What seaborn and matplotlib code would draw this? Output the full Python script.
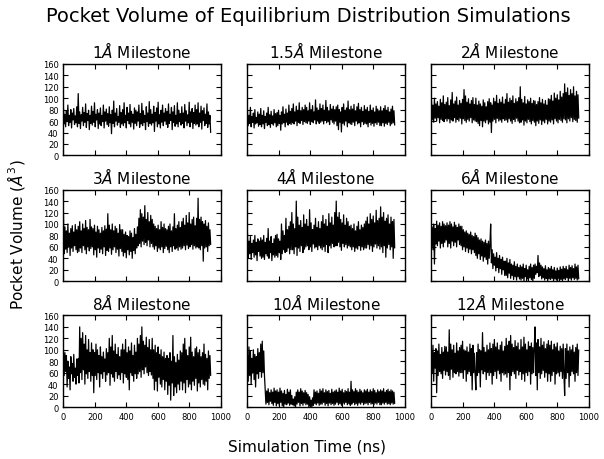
import numpy as np
import pandas as pd
import matplotlib
matplotlib.use('Agg')
import matplotlib.pyplot as plt
import seaborn as sns

# ---- data (pocket volume in A^3) ----
time_step_ns = 4.7

milestones = ['1', '1.5', '2', '3', '4', '6', '8', '10', '12']

vol_1A = [84, 55, 72, 50, 78, 60, 88, 52, 70, 58, 80, 48, 74, 62, 82, 54, 69, 57, 85, 50,
          108, 56, 76, 47, 71, 60, 84, 52, 75, 58, 90, 49, 73, 61, 79, 45, 70, 56, 86, 53,
          77, 58, 92, 50, 72, 62, 80, 47, 74, 55, 83, 52, 70, 59, 88, 48, 76, 60, 81, 54,
          73, 51, 85, 57, 71, 38, 79, 56, 95, 50, 74, 60, 82, 53, 68, 58, 87, 49, 75, 55,
          80, 52, 92, 57, 70, 48, 84, 61, 74, 55, 89, 50, 77, 58, 72, 46, 83, 56, 79, 52,
          76, 60, 88, 49, 73, 55, 91, 52, 78, 58, 70, 45, 85, 59, 74, 51, 94, 56, 80, 53,
          72, 57, 86, 42, 75, 60, 83, 50, 93, 55, 71, 48, 79, 58, 88, 52, 74, 60, 82, 54,
          77, 49, 90, 56, 72, 61, 84, 45, 76, 58, 87, 51, 70, 55, 92, 50, 79, 59, 73, 53,
          85, 56, 74, 48, 89, 60, 78, 52, 71, 57, 93, 50, 76, 58, 82, 47, 75, 56, 88, 53,
          80, 55, 92, 50, 74, 58, 86, 46, 78, 61, 83, 52, 72, 56, 90, 49, 76, 55, 70, 40]

vol_1_5A = [78, 52, 70, 56, 84, 50, 68, 58, 74, 48, 80, 55, 66, 57, 76, 51, 72, 54, 82, 50,
            70, 55, 78, 47, 68, 58, 74, 52, 84, 54, 71, 49, 77, 56, 69, 53, 80, 57, 73, 50,
            75, 52, 79, 56, 70, 44, 76, 55, 85, 57, 72, 50, 81, 58, 74, 53, 88, 56, 77, 54,
            82, 57, 90, 55, 76, 60, 86, 52, 79, 58, 92, 56, 78, 61, 84, 54, 80, 59, 88, 57,
            84, 56, 78, 60, 92, 54, 80, 59, 87, 57, 76, 62, 97, 55, 83, 60, 79, 56, 90, 58,
            82, 60, 88, 55, 79, 61, 96, 57, 84, 59, 78, 54, 89, 62, 81, 58, 86, 55, 80, 60,
            85, 52, 88, 45, 80, 58, 76, 41, 84, 56, 90, 53, 79, 60, 83, 50, 95, 57, 80, 55,
            86, 54, 81, 58, 89, 52, 78, 60, 85, 55, 91, 57, 80, 50, 84, 59, 77, 54, 87, 56,
            80, 55, 84, 50, 77, 58, 88, 53, 79, 56, 83, 51, 76, 57, 86, 54, 81, 58, 78, 52,
            85, 52, 78, 57, 82, 51, 87, 56, 79, 54, 84, 58, 76, 52, 81, 55, 86, 57, 78, 53]

vol_2A = [96, 62, 88, 58, 100, 65, 90, 60, 94, 66, 86, 57, 98, 63, 92, 61, 104, 59, 89, 64,
          93, 60, 101, 64, 87, 57, 97, 62, 110, 60, 90, 66, 95, 58, 102, 63, 88, 60, 96, 65,
          91, 55, 98, 64, 115, 61, 104, 58, 93, 63, 99, 60, 90, 66, 96, 57, 101, 62, 89, 60,
          100, 59, 88, 56, 95, 52, 90, 61, 86, 50, 97, 60, 92, 57, 85, 62, 94, 55, 99, 58,
          92, 40, 88, 60, 100, 63, 94, 57, 105, 65, 91, 60, 98, 62, 93, 58, 102, 64, 90, 61,
          98, 62, 108, 58, 93, 64, 100, 60, 96, 56, 104, 63, 91, 59, 99, 65, 94, 60, 101, 57,
          120, 58, 98, 62, 92, 53, 103, 60, 90, 57, 97, 63, 94, 59, 100, 55, 91, 61, 96, 58,
          95, 52, 89, 60, 94, 56, 101, 62, 92, 54, 98, 60, 90, 57, 96, 63, 88, 55, 99, 60,
          98, 58, 105, 62, 95, 55, 109, 64, 100, 60, 106, 57, 97, 63, 112, 61, 102, 58, 108, 64,
          125, 62, 110, 57, 118, 64, 105, 60, 115, 66, 108, 59, 120, 63, 104, 61, 112, 58, 106, 65]

vol_3A = [120, 48, 95, 56, 88, 50, 100, 60, 84, 45, 92, 58, 97, 52, 86, 62, 99, 55, 90, 50,
          96, 52, 104, 58, 88, 50, 100, 62, 92, 55, 106, 48, 94, 60, 90, 53, 108, 57, 95, 60,
          92, 46, 98, 55, 86, 42, 96, 58, 90, 50, 84, 56, 94, 48, 88, 60, 97, 45, 91, 54,
          118, 52, 98, 58, 90, 47, 100, 55, 88, 60, 96, 50, 92, 56, 84, 44, 99, 57, 90, 52,
          90, 44, 82, 50, 86, 41, 80, 55, 78, 46, 88, 52, 84, 40, 76, 54, 92, 48, 82, 58,
          95, 62, 110, 66, 125, 60, 118, 70, 112, 64, 132, 68, 108, 62, 120, 72, 104, 60, 115, 66,
          108, 60, 100, 56, 96, 62, 92, 52, 98, 58, 90, 55, 104, 60, 94, 50, 100, 57, 92, 61,
          90, 55, 96, 50, 100, 60, 88, 52, 95, 62, 118, 56, 92, 58, 98, 54, 104, 60, 94, 56,
          104, 58, 110, 62, 98, 55, 115, 63, 102, 57, 120, 60, 100, 64, 108, 56, 112, 62, 97, 58,
          110, 60, 145, 58, 108, 55, 112, 62, 104, 35, 100, 58, 106, 60, 96, 52, 102, 62, 90, 64]

vol_4A = [85, 40, 70, 48, 78, 38, 66, 50, 72, 42, 80, 46, 68, 36, 74, 52, 70, 44, 76, 40,
          72, 42, 80, 38, 68, 48, 75, 44, 92, 40, 70, 50, 78, 36, 66, 46, 74, 42, 80, 45,
          82, 42, 74, 50, 70, 38, 100, 48, 88, 55, 80, 50, 110, 52, 90, 58, 96, 48, 104, 55,
          120, 55, 100, 48, 92, 60, 140, 45, 112, 58, 98, 52, 106, 62, 94, 50, 116, 56, 100, 60,
          108, 62, 96, 55, 125, 60, 102, 52, 90, 65, 98, 58, 110, 60, 94, 55, 104, 62, 92, 58,
          104, 55, 115, 60, 100, 52, 108, 64, 96, 50, 118, 62, 102, 58, 112, 66, 98, 60, 120, 62,
          140, 62, 112, 68, 120, 60, 108, 54, 102, 66, 116, 60, 98, 64, 110, 58, 104, 62, 96, 60,
          98, 55, 92, 60, 100, 52, 88, 58, 96, 56, 104, 62, 90, 54, 98, 60, 94, 55, 100, 58,
          105, 58, 112, 64, 100, 56, 118, 62, 108, 52, 114, 60, 102, 65, 124, 58, 106, 62, 110, 56,
          130, 60, 112, 50, 120, 62, 105, 42, 110, 58, 116, 64, 100, 55, 112, 60, 104, 40, 108, 58]

vol_6A = [60, 95, 55, 100, 30, 92, 65, 105, 62, 98, 70, 102, 58, 96, 66, 104, 60, 100, 68, 97,
          72, 102, 60, 98, 66, 104, 58, 100, 70, 95, 62, 103, 68, 98, 60, 94, 72, 100, 64, 96,
          62, 96, 55, 90, 60, 86, 52, 88, 58, 84, 50, 82, 56, 86, 48, 80, 55, 78, 50, 84,
          45, 80, 40, 76, 48, 72, 38, 74, 44, 70, 35, 68, 42, 72, 38, 66, 30, 70, 40, 64,
          100, 32, 55, 22, 48, 28, 42, 18, 50, 24, 40, 15, 45, 22, 38, 12, 42, 20, 35, 10,
          35, 10, 40, 6, 32, 14, 38, 5, 30, 10, 28, 3, 34, 8, 26, 2, 30, 8, 24, 4,
          28, 2, 25, 5, 30, 0, 22, 8, 28, 4, 20, 1, 26, 6, 30, 3, 24, 0, 28, 5,
          30, 12, 26, 15, 45, 8, 32, 10, 28, 4, 25, 6, 22, 2, 27, 5, 20, 0, 24, 4,
          22, 3, 26, 5, 20, 0, 24, 4, 18, 2, 23, 5, 19, 0, 25, 3, 21, 1, 26, 4,
          22, 3, 26, 6, 20, 0, 28, 5, 24, 2, 27, 6, 22, 3, 30, 5, 25, 2, 28, 4]

vol_8A = [100, 55, 95, 62, 90, 35, 80, 50, 70, 30, 88, 58, 76, 45, 92, 52, 68, 40, 84, 55,
          85, 42, 140, 60, 120, 48, 130, 65, 110, 40, 125, 58, 100, 50, 118, 62, 95, 45, 112, 55,
          100, 25, 95, 55, 110, 48, 100, 60, 90, 35, 105, 58, 88, 50, 96, 62, 84, 45, 102, 56,
          95, 60, 120, 38, 105, 58, 125, 52, 98, 45, 110, 62, 92, 50, 104, 56, 88, 48, 100, 60,
          110, 42, 100, 58, 118, 52, 95, 48, 105, 30, 98, 60, 112, 55, 90, 45, 108, 58, 96, 50,
          120, 58, 110, 62, 125, 52, 140, 65, 115, 58, 108, 70, 122, 60, 104, 55, 118, 62, 100, 56,
          120, 50, 100, 30, 108, 45, 95, 28, 105, 52, 92, 40, 100, 35, 88, 48, 96, 30, 85, 45,
          90, 22, 85, 38, 95, 12, 80, 42, 125, 20, 88, 35, 78, 25, 92, 40, 82, 30, 98, 45,
          95, 30, 110, 42, 120, 25, 100, 48, 90, 35, 105, 40, 122, 30, 96, 45, 88, 38, 102, 50,
          105, 28, 95, 42, 100, 35, 88, 48, 95, 40, 110, 38, 92, 45, 85, 30, 98, 50, 90, 55]

vol_10A = [90, 45, 105, 55, 98, 40, 85, 60, 100, 48, 92, 35, 88, 58, 102, 50, 95, 62, 110, 52,
           115, 60, 98, 55, 30, 5, 28, 8, 32, 4, 25, 10, 30, 6, 26, 3, 33, 8, 28, 2,
           30, 6, 26, 3, 33, 8, 28, 2, 24, 0, 29, 5, 22, 4, 31, 7, 26, 3, 30, 5,
           20, 4, 14, 2, 18, 0, 26, 5, 30, 8, 26, 2, 32, 6, 28, 3, 25, 7, 29, 4,
           25, 5, 22, 0, 18, 2, 12, 0, 16, 3, 30, 6, 26, 4, 28, 7, 24, 3, 31, 5,
           28, 5, 32, 8, 25, 3, 30, 6, 27, 2, 29, 7, 24, 4, 31, 6, 26, 3, 28, 5,
           30, 8, 26, 4, 33, 6, 28, 3, 31, 7, 25, 5, 29, 8, 27, 4, 32, 6, 26, 3,
           45, 5, 30, 8, 27, 4, 32, 6, 29, 3, 26, 7, 31, 5, 28, 8, 25, 4, 30, 6,
           28, 7, 31, 4, 26, 8, 30, 5, 27, 6, 32, 4, 29, 7, 25, 5, 30, 8, 27, 4,
           30, 4, 28, 7, 32, 5, 26, 8, 29, 5, 31, 6, 27, 4, 30, 7, 28, 5, 26, 6]

vol_12A = [100, 60, 108, 45, 95, 68, 102, 25, 98, 55, 110, 62, 92, 58, 104, 50, 96, 64, 106, 56,
           105, 62, 96, 55, 135, 48, 110, 66, 100, 52, 108, 60, 94, 58, 112, 62, 98, 54, 104, 60,
           108, 60, 115, 50, 100, 65, 98, 45, 105, 58, 96, 62, 110, 55, 102, 30, 108, 60, 94, 56,
           30, 95, 55, 110, 60, 100, 35, 98, 65, 130, 58, 104, 62, 96, 48, 108, 60, 100, 55, 112,
           60, 102, 40, 110, 55, 118, 62, 105, 50, 112, 64, 100, 58, 108, 45, 114, 60, 98, 56, 106,
           58, 120, 52, 108, 60, 115, 30, 125, 55, 110, 62, 104, 58, 116, 50, 106, 64, 112, 56, 100,
           62, 118, 48, 105, 58, 122, 45, 110, 60, 100, 55, 114, 62, 106, 40, 112, 58, 104, 60, 108,
           140, 55, 112, 30, 118, 60, 105, 50, 120, 58, 108, 64, 114, 52, 102, 60, 110, 45, 116, 58,
           108, 45, 115, 55, 100, 62, 110, 40, 105, 58, 112, 60, 98, 54, 106, 62, 102, 50, 110, 58,
           20, 102, 50, 110, 60, 98, 35, 105, 55, 100, 62, 108, 58, 96, 45, 104, 60, 110, 55, 100]

volumes = [vol_1A, vol_1_5A, vol_2A, vol_3A, vol_4A,
           vol_6A, vol_8A, vol_10A, vol_12A]

y_ticks = [0, 20, 40, 60, 80, 100, 120, 140, 160]
x_ticks = [0, 200, 400, 600, 800, 1000]

# ---- style ----
sns.set_style('ticks')
plt.rcParams['font.family'] = ['DejaVu Sans']
plt.rcParams['mathtext.fontset'] = 'dejavusans'
plt.rcParams['text.color'] = 'black'
plt.rcParams['axes.labelcolor'] = 'black'
plt.rcParams['xtick.color'] = 'black'
plt.rcParams['ytick.color'] = 'black'
plt.rcParams['xtick.direction'] = 'in'
plt.rcParams['ytick.direction'] = 'in'
plt.rcParams['xtick.top'] = True
plt.rcParams['ytick.right'] = True
plt.rcParams['xtick.major.size'] = 3.5
plt.rcParams['ytick.major.size'] = 3.5
plt.rcParams['axes.edgecolor'] = 'black'
plt.rcParams['axes.linewidth'] = 1.0

fig, axes = plt.subplots(3, 3, figsize=(6.04, 4.6), dpi=100,
                         sharex=True, sharey=True)
fig.subplots_adjust(left=0.105, right=0.975, top=0.859, bottom=0.113,
                    wspace=0.169, hspace=0.374)

for ax, label, vals in zip(axes.flatten(), milestones, volumes):
    df = pd.DataFrame({'time': np.arange(len(vals)) * time_step_ns,
                       'volume': vals})
    sns.lineplot(data=df, x='time', y='volume', ax=ax, color='black',
                 linewidth=0.9, estimator=None)
    ax.set_title(label + r'$\AA$ Milestone', fontsize=11, pad=5,
                 color='black')
    ax.set_xlabel('')
    ax.set_ylabel('')
    ax.set_xlim(0, 1000)
    ax.set_ylim(0, 160)
    ax.set_xticks(x_ticks)
    ax.set_yticks(y_ticks)
    ax.tick_params(labelsize=6, width=0.8, colors='black')

fig.suptitle('Pocket Volume of Equilibrium Distribution Simulations',
             fontsize=14, x=0.51, y=0.985, color='black')
fig.text(0.508, 0.028, 'Simulation Time (ns)', ha='center', va='center',
         fontsize=11)
fig.text(0.027, 0.49, r'Pocket Volume ($\AA^3$)', ha='center', va='center',
         rotation=90, fontsize=11)

plt.savefig('out.png', dpi=100, facecolor='white')
plt.close()
